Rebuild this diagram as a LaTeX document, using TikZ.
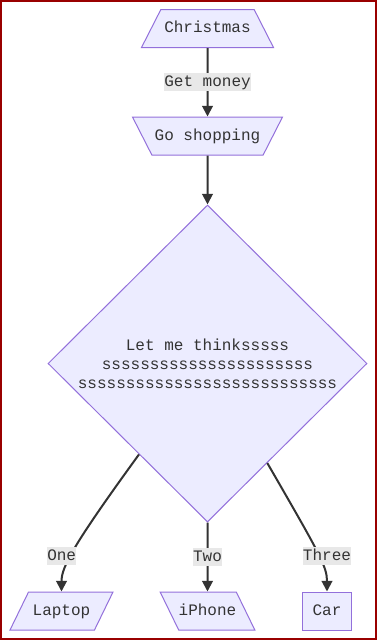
\documentclass[tikz,border=0pt]{standalone}
\usepackage{fontspec}
\setmonofont{Liberation Mono}
\usetikzlibrary{shapes.geometric, arrows.meta}
\definecolor{boxfill}{HTML}{ECECFF}
\definecolor{boxline}{HTML}{9370DB}
\definecolor{ink}{HTML}{333333}
\definecolor{labelbg}{HTML}{E8E8E8}
\definecolor{framered}{HTML}{990000}

\begin{document}
\begin{tikzpicture}[x=0.75pt, y=-0.75pt, >={Triangle[length=8pt,width=8pt]},
  every node/.style={font=\ttfamily\fontsize{12}{14.25}\selectfont, text=ink},
  filled/.style={draw=boxline, fill=boxfill, line width=0.75pt},
  box/.style={filled, inner xsep=0pt, inner ysep=8.5pt, text height=9pt, text depth=2.5pt},
  lean/.style 2 args={box, trapezium, trapezium stretches body=true,
    trapezium left angle=#1, trapezium right angle=#2},
  flow/.style={->, draw=ink, line width=1.5pt},
  lbl/.style={fill=labelbg, inner xsep=0pt, inner ysep=1pt, text height=9pt, text depth=2.5pt}]
  \useasboundingbox (0,0) rectangle (377,640);
  \draw[framered, line width=1.5pt] (1,1) rectangle (376,639);

  % the shapes, in pixel coordinates (y runs down)
  \node[lean={63}{63}, minimum width=99pt] (xmas) at (207.5,28.5) {Christmas};
  \node[lean={117}{117}, minimum width=112.5pt] (shop) at (207.5,136) {Go shopping};
  \node[filled, diamond, inner sep=0pt, minimum width=239.25pt, minimum height=237.75pt, align=center] (think) at (207.5,363.5)
    {Let me thinksssss\\ssssssssssssssssssssss\\sssssssssssssssssssssssssss};
  \node[lean={64}{116}, minimum width=77.25pt] (laptop) at (61.5,611) {Laptop};
  \node[lean={116}{64}, minimum width=66.75pt] (iphone) at (207.5,611) {iPhone};
  \node[box, minimum width=36.75pt] (car) at (327,611) {Car};

  \draw[flow] (xmas) -- node[lbl] (getmoney) {Get money} (shop);
  \draw[flow] (shop) -- (think);
  \draw[flow] (think.233.6) .. controls +(234:82.5pt) and +(90:18.75pt) .. (laptop.north);
  \draw[flow] (think.south) -- node[lbl] (two) {Two} (iphone.north);
  \draw[flow] (think.301.3) .. controls +(300:78.75pt) and +(90:18.75pt) .. (car.north);
  \node[lbl] (one) at (61.7,556) {One};
  \node[lbl] (three) at (327,556) {Three};
\end{tikzpicture}
\end{document}
